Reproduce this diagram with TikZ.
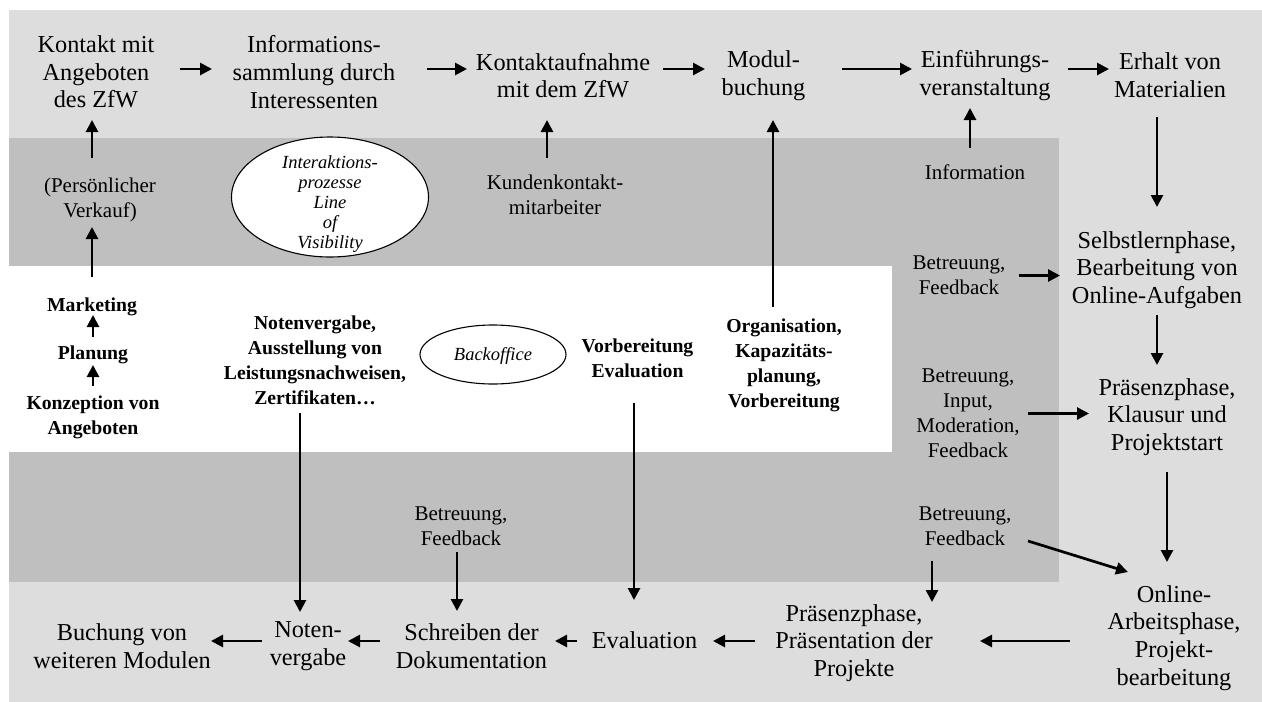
\documentclass[tikz,border=0pt]{standalone}
\usepackage{fontspec}
\setmainfont{Liberation Serif}
\usetikzlibrary{shapes.geometric,arrows.meta}
\definecolor{laneLight}{RGB}{221,221,221}
\definecolor{laneDark}{RGB}{191,191,191}
\begin{document}
\begin{tikzpicture}[x=1pt,y=-1pt,
  stage/.style={align=center, inner sep=0pt, font=\fontsize{24.3}{27.7}\selectfont},
  support/.style={align=center, inner sep=0pt, font=\fontsize{21}{25}\selectfont},
  backtask/.style={align=center, inner sep=0pt, font=\bfseries\fontsize{19.7}{25}\selectfont},
  tag/.style={align=center, inner sep=0pt, font=\itshape\fontsize{18.5}{19.8}\selectfont},
  zone/.style={ellipse, draw, fill=white, line width=1.1pt, inner sep=0pt},
  flow/.style={line width=2.7pt, -{Triangle[length=12pt,width=12pt]}}
]
\useasboundingbox (0,0) rectangle (1262,702);

% swim lanes
\fill[laneLight] (9,10) rectangle (1262,702);
\fill[laneDark] (9,138) rectangle (1059,582);
\fill[white] (9,266) rectangle (892,452);

% lane labels
\node[zone, minimum width=197pt, minimum height=120pt] (visibility) at (330,197) {};
\node[tag] (visibilitytext) at (330,204) {Interaktions-\\prozesse\\Line\\of\\Visibility};
\node[zone, minimum width=146pt, minimum height=59pt] (backoffice) at (493,354.5) {};
\node[tag] (backofficetext) at (493,356) {Backoffice};

% helper rows for horizontal flows
\coordinate (row1) at (0,69);
\coordinate (row3) at (0,641);

% customer process (top row)
\node[stage] (kontakt) at (96,72) {Kontakt mit\\Angeboten\\des ZfW};
\node[stage] (info) at (314,72) {Informations-\\sammlung durch\\Interessenten};
\node[stage] (aufnahme) at (563,75.5) {Kontaktaufnahme\\mit dem ZfW};
\node[stage] (modul) at (763.5,75.5) {Modul-\\buchung};
\node[stage] (einf) at (985,75.5) {Einführungs-\\veranstaltung};
\node[stage] (erhalt) at (1170,75.5) {Erhalt von\\Materialien};

% customer process (right column)
\node[stage] (selbst) at (1157,270) {Selbstlernphase,\\Bearbeitung von\\Online-Aufgaben};
\node[stage] (praes1) at (1167,417) {Präsenzphase,\\Klausur und\\Projektstart};
\node[stage] (online) at (1174,638) {Online-\\Arbeitsphase,\\Projekt-\\bearbeitung};

% customer process (bottom row)
\node[stage] (praes2) at (854,643) {Präsenzphase,\\Präsentation der\\Projekte};
\node[stage] (evaluation) at (644.5,640) {Evaluation};
\node[stage] (schreiben) at (471.5,646) {Schreiben der\\Dokumentation};
\node[stage] (notenverg) at (308,646) {Noten-\\vergabe};
\node[stage] (buchung) at (122,646) {Buchung von\\weiteren Modulen};

% contact staff
\node[support] (verkauf) at (100,200) {(Persönlicher\\Verkauf)};
\node[support] (kunden) at (555,194.5) {Kundenkontakt-\\mitarbeiter};
\node[support] (information) at (975,172) {Information};
\node[support] (betr3) at (959,275.5) {Betreuung,\\Feedback};
\node[support] (betr4) at (968,413.5) {Betreuung,\\Input,\\Moderation,\\Feedback};
\node[support] (betr1) at (461,526) {Betreuung,\\Feedback};
\node[support] (betr2) at (965,526) {Betreuung,\\Feedback};

% back office
\node[backtask] (marketing) at (92,307) {Marketing};
\node[backtask] (planung) at (93,355) {Planung};
\node[backtask] (konzeption) at (93,417.5) {Konzeption von\\Angeboten};
\node[backtask] (notenaus) at (315,360.5) {Notenvergabe,\\Ausstellung von\\Leistungsnachweisen,\\Zertifikaten…};
\node[backtask] (vorbeval) at (637.5,358.5) {Vorbereitung\\Evaluation};
\node[backtask] (organisation) at (784,365) {Organisation,\\Kapazitäts-\\planung,\\Vorbereitung};

% top row flow
\draw[flow, shorten <=84pt, shorten >=102pt] (kontakt |- row1) -- (info |- row1);
\draw[flow, shorten <=113pt, shorten >=96pt] (info |- row1) -- (aufnahme |- row1);
\draw[flow, shorten <=100pt, shorten >=58.5pt] (aufnahme |- row1) -- (modul |- row1);
\draw[flow, shorten <=78.5pt, shorten >=73pt] (modul |- row1) -- (einf |- row1);
\draw[flow, shorten <=83pt, shorten >=61pt] (einf |- row1) -- (erhalt |- row1);

% right column flow
\draw[flow, shorten <=41.5pt, shorten >=63pt] (selbst |- erhalt) -- (selbst.center);
\draw[flow, shorten <=45pt, shorten >=52pt] (selbst.center) -- (selbst |- praes1);
\draw[flow, shorten <=55pt, shorten >=76pt] (praes1.center) -- (praes1 |- online);

% bottom row flow
\draw[flow, shorten <=104pt, shorten >=126pt] (online |- row3) -- (praes2 |- row3);
\draw[flow, shorten <=99pt, shorten >=68.5pt] (praes2 |- row3) -- (evaluation |- row3);
\draw[flow, shorten <=67.5pt, shorten >=83.5pt] (evaluation |- row3) -- (schreiben |- row3);
\draw[flow, shorten <=91.5pt, shorten >=40pt] (schreiben |- row3) -- (notenverg |- row3);
\draw[flow, shorten <=46pt, shorten >=89pt] (notenverg |- row3) -- (buchung |- row3);

% marketing column
\draw[flow, shorten <=18pt, shorten >=8pt] (planung.center) -- (planung |- marketing);
\draw[flow, shorten <=31.5pt, shorten >=10pt] (konzeption.center) -- (konzeption |- planung);
\draw[flow, shorten <=30pt, shorten >=27pt] (marketing.center) -- (marketing |- verkauf);
\draw[flow, shorten <=42pt, shorten >=48pt] (marketing |- verkauf) -- (marketing |- kontakt);

% support into the customer process
\draw[flow, shorten <=36.5pt, shorten >=44.5pt] ([xshift=-8pt]kunden.center) -- ([xshift=-8pt]kunden.center |- aufnahme);
\draw[flow, shorten <=24pt, shorten >=32.5pt] ([xshift=-5pt]information.center) -- ([xshift=-5pt]information.center |- einf);
\draw[flow, shorten <=58pt, shorten >=44.5pt] ([xshift=-11pt]organisation.center) -- ([xshift=-11pt]organisation.center |- modul);
\draw[flow, shorten <=60pt, shorten >=97pt] (betr3.center) -- (betr3 -| selbst);
\draw[flow, shorten <=60pt, shorten >=78pt] (betr4.center) -- (betr4 -| praes1);
\draw[flow, shorten <=44.5pt, shorten >=40pt] ([xshift=-3.5pt]vorbeval.center) -- ([xshift=-3.5pt]vorbeval.center |- evaluation);
\draw[flow, shorten <=52.5pt, shorten >=34pt] ([xshift=-15pt]notenaus.center) -- ([xshift=-15pt]notenaus.center |- notenverg);
\draw[flow, shorten <=26pt, shorten >=35pt] ([xshift=-4pt]betr1.center) -- ([xshift=-4pt]betr1.center |- schreiben);
\draw[flow, shorten <=35pt, shorten >=41pt] ([xshift=-33pt]betr2.center) -- ([xshift=-33pt]betr2.center |- praes2);
\draw[flow] ([shift={(63,15)}]betr2.center) -- ([shift={(-46,-66)}]online.center);
\end{tikzpicture}
\end{document}
